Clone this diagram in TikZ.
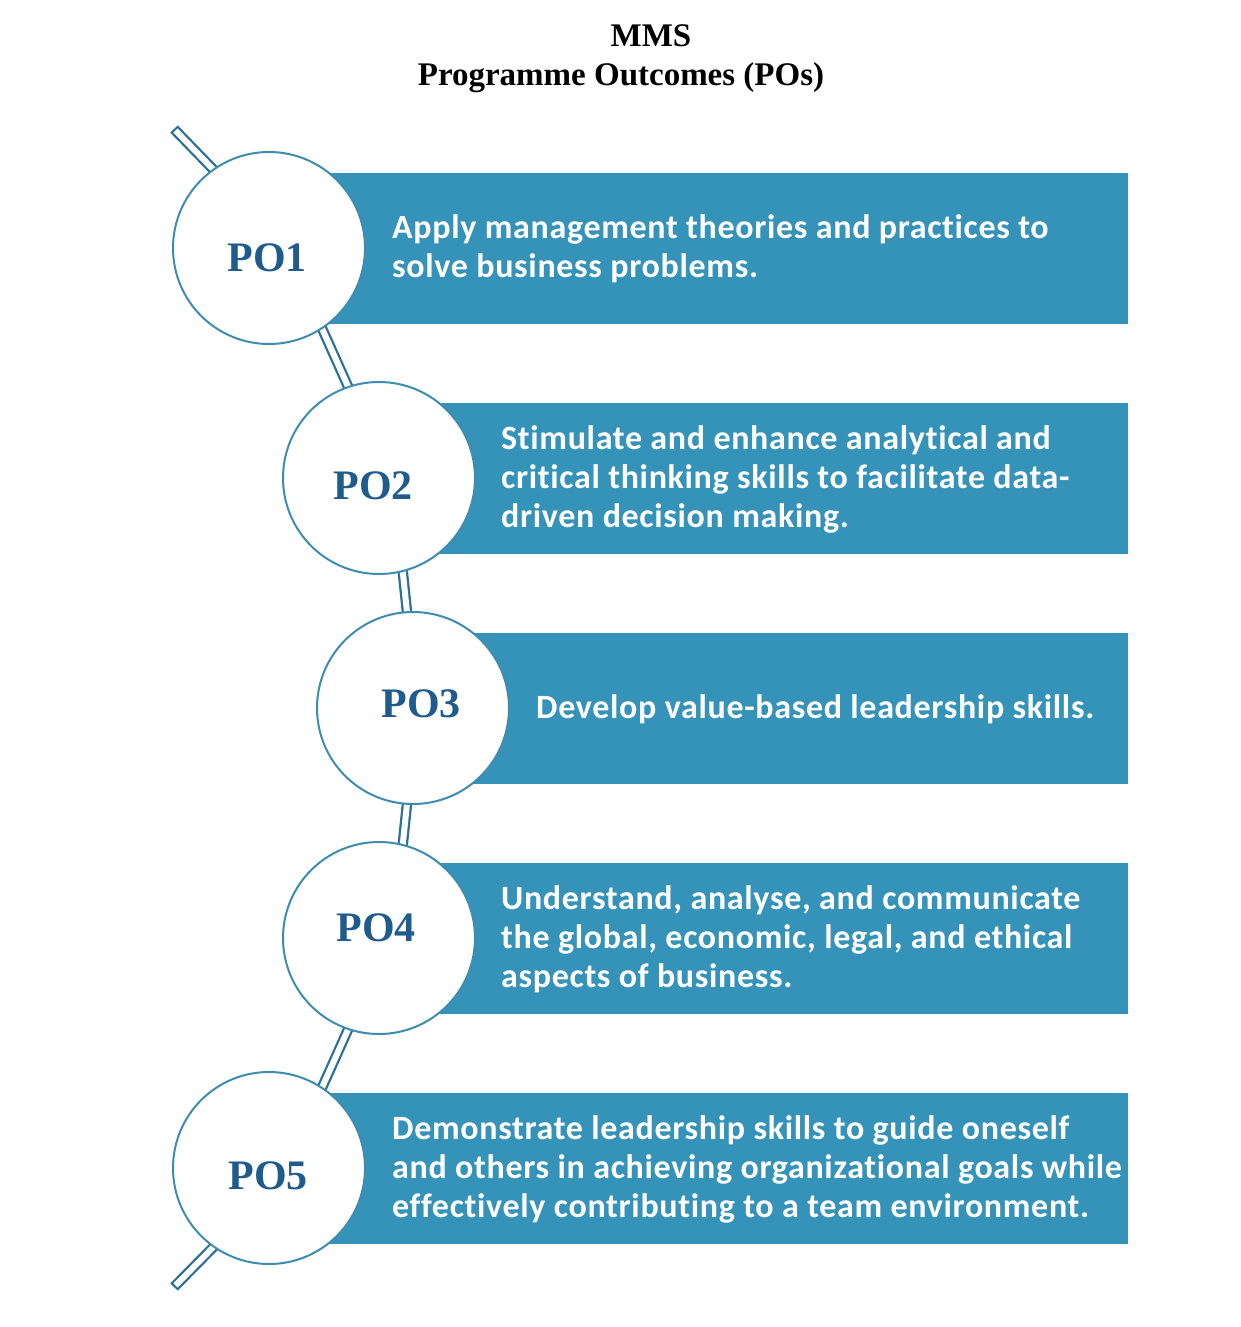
\documentclass[tikz,border=0pt]{standalone}
\usepackage{fontspec}
\setmainfont{Liberation Serif}
\newfontfamily\bandfont[LetterSpace=2,Ligatures=NoCommon]{Carlito}
\usetikzlibrary{positioning,backgrounds}
\definecolor{POBand}{HTML}{3593BA}
\definecolor{PORing}{HTML}{3E8CAF}
\definecolor{POLink}{HTML}{2B7193}
\definecolor{POLabel}{HTML}{1F5B8D}
\tikzset{
    % Circle of each outcome
    ponode/.style={
        circle,
        draw=PORing,
        fill=white,
        line width=2pt,
        minimum size=192pt,
        inner sep=0pt
    },
    % Outcome number
    polabel/.style={
        text=POLabel,
        inner sep=0pt,
        font=\fontsize{42}{50}\selectfont\bfseries
    },
    % Band behind the text
    poband/.style={
        fill=POBand,
        draw=none
    },
    % Text on the band
    potext/.style={
        anchor=west,
        text=white,
        align=left,
        inner sep=0pt,
        font=\bandfont\bfseries\fontsize{34}{39}\selectfont
    },
    % Hollow bar between circles
    linkbar/.style={
        draw=POLink,
        line width=10.5pt,
        postaction={draw=white, line width=6pt, shorten <=2.2pt, shorten >=2.2pt}
    },
    % Title lines
    titletext/.style={
        inner sep=0pt,
        font=\fontsize{33}{40}\selectfont\bfseries
    }
}
\begin{document}
\begin{tikzpicture}[x=1pt,y=-1pt]
    \useasboundingbox (0,0) rectangle (1240,1327);

    % Title
    \node[titletext] (title1) at (651,36) {MMS};
    \node[titletext] (title2) at (621,78) {Programme Outcomes (POs)};

    % Circles
    \node[ponode] (po1) at (269,248) {};
    \node[ponode] (po2) at (379,478) {};
    \node[ponode] (po3) at (413,708) {};
    \node[ponode] (po4) at (379,938) {};
    \node[ponode] (po5) at (269,1168) {};

    % Numbers
    \node[polabel] (lab1) at (267,258) {PO1};
    \node[polabel] (lab2) at (373,486) {PO2};
    \node[polabel] (lab3) at (421,704) {PO3};
    \node[polabel] (lab4) at (376,928) {PO4};
    \node[polabel] (lab5) at (268,1176) {PO5};

    % Free ends of the bar
    \coordinate (topend) at (174,129);
    \coordinate (topin) at (240,197);
    \coordinate (botend) at (174,1287);
    \coordinate (botin) at (240,1220);

    \begin{scope}[on background layer]
        % Bands
        \foreach \cx/\cy in {269/248, 379/478, 413/708, 379/938, 269/1168}
            \fill[poband] (\cx,\cy-75.5) rectangle (1128,\cy+75.5);

        % Bars
        \draw[linkbar] (topend) -- (topin);
        \draw[linkbar] ([xshift=17pt]po1.center) -- ([xshift=10pt]po2.center);
        \draw[linkbar] ([xshift=14pt]po2.center) -- ([xshift=4pt]po3.center);
        \draw[linkbar] ([xshift=4pt]po3.center) -- ([xshift=14pt]po4.center);
        \draw[linkbar] ([xshift=10pt]po4.center) -- ([xshift=17pt]po5.center);
        \draw[linkbar] (botend) -- (botin);
    \end{scope}

    % Texts
    \node[potext] (text1) at (392,249) {Apply management theories and practices to\\solve business problems.};
    \node[potext] (text2) at (501,479) {Stimulate and enhance analytical and\\critical thinking skills to facilitate data-\\driven decision making.};
    \node[potext] (text3) at (536,709) {Develop value-based leadership skills.};
    \node[potext] (text4) at (501,939) {Understand, analyse, and communicate\\the global, economic, legal, and ethical\\aspects of business.};
    \node[potext] (text5) at (392,1169) {Demonstrate leadership skills to guide oneself\\and others in achieving organizational goals while\\effectively contributing to a team environment.};
\end{tikzpicture}
\end{document}
